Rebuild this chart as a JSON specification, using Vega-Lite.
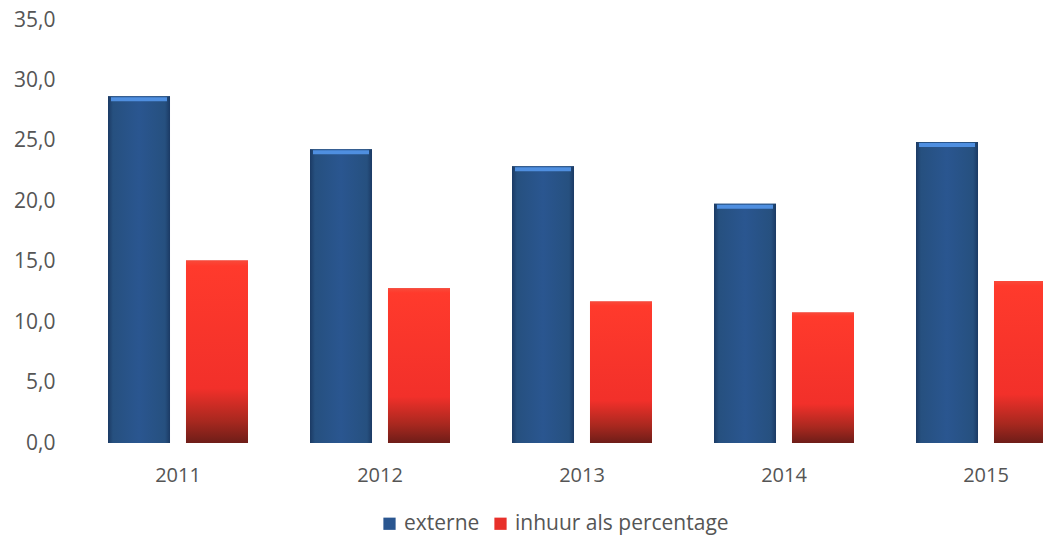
{
  "$schema": "https://vega.github.io/schema/vega-lite/v6.json",
  "autosize": {"type": "none"},
  "width": 966,
  "height": 423,
  "padding": {"left": 77, "top": 20, "right": 0, "bottom": 98},
  "background": "white",
  "config": {"view": {"stroke": null}, "font": "Open Sans"},
  "data": {
    "values": [
      {"year": "2011", "series": "externe", "value": 28.7},
      {"year": "2011", "series": "inhuur als percentage", "value": 15.1},
      {"year": "2012", "series": "externe", "value": 24.3},
      {"year": "2012", "series": "inhuur als percentage", "value": 12.8},
      {"year": "2013", "series": "externe", "value": 22.9},
      {"year": "2013", "series": "inhuur als percentage", "value": 11.7},
      {"year": "2014", "series": "externe", "value": 19.8},
      {"year": "2014", "series": "inhuur als percentage", "value": 10.8},
      {"year": "2015", "series": "externe", "value": 24.9},
      {"year": "2015", "series": "inhuur als percentage", "value": 13.4}
    ]
  },
  "encoding": {
    "x": {
      "field": "year", "type": "nominal",
      "scale": {"range": [0, 1010], "paddingInner": 0.307, "paddingOuter": 0.1535},
      "axis": {"title": null, "labelAngle": 0, "domain": false, "ticks": false, "labelFontSize": 20, "labelColor": "#555555", "labelPadding": 22}
    },
    "xOffset": {"field": "series", "type": "nominal", "sort": ["externe", "inhuur als percentage"], "scale": {"paddingInner": 0.205, "paddingOuter": 0}},
    "y": {
      "field": "value", "type": "quantitative",
      "scale": {"domain": [0, 35], "nice": false},
      "axis": {"title": null, "values": [0, 5, 10, 15, 20, 25, 30, 35], "grid": false, "domain": false, "ticks": false, "labelFontSize": 21, "labelColor": "#555555", "labelPadding": 22, "labelExpr": "replace(format(datum.value, '.1f'), '.', ',')"}
    }
  },
  "layer": [
    {
      "mark": {"type": "bar", "clip": true},
      "encoding": {
        "color": {
          "field": "series", "type": "nominal",
          "scale": {"domain": ["externe", "inhuur als percentage"], "range": ["#2A5690", "#E8302A"]},
          "legend": {"title": null, "orient": "none", "direction": "horizontal", "legendX": 302, "legendY": 493, "symbolType": "square", "symbolSize": 150, "symbolStrokeWidth": 0, "labelFontSize": 21, "labelLimit": 0, "labelColor": "#555555", "columnPadding": 10, "labelOffset": 4}
        }
      }
    },
    {
      "transform": [{"filter": "datum.series === 'externe'"}],
      "mark": {"type": "bar", "clip": true, "fill": {"gradient": "linear", "x1": 0, "y1": 0, "x2": 1, "y2": 0, "stops": [{"offset": 0, "color": "#1B3A64"}, {"offset": 0.08, "color": "#26507F"}, {"offset": 0.5, "color": "#2A5690"}, {"offset": 0.92, "color": "#26507F"}, {"offset": 1, "color": "#1B3A64"}]}}
    },
    {
      "transform": [{"filter": "datum.series === 'inhuur als percentage'"}],
      "mark": {"type": "bar", "clip": true, "fill": {"gradient": "linear", "x1": 0, "y1": 0, "x2": 0, "y2": 1, "stops": [{"offset": 0, "color": "#F84A3A"}, {"offset": 0.03, "color": "#FF3A2C"}, {"offset": 0.7, "color": "#F2302A"}, {"offset": 0.88, "color": "#A8281F"}, {"offset": 1, "color": "#6E1D18"}]}}
    },
    {
      "transform": [{"filter": "datum.series === 'externe'"}],
      "mark": {"type": "tick", "clip": true, "color": "#4F8FE0", "thickness": 4, "size": 56, "yOffset": 3, "opacity": 1}
    }
  ]
}
